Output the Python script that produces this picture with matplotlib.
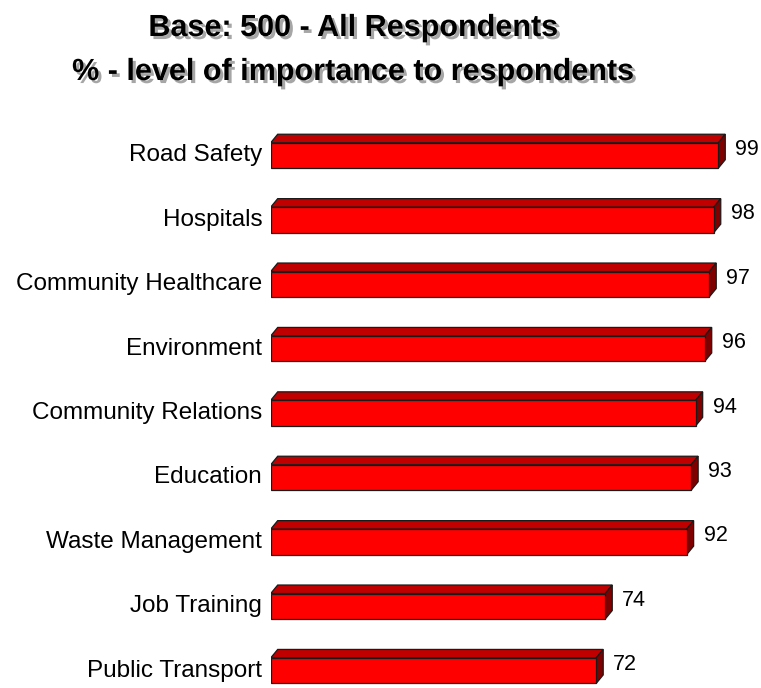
import matplotlib
matplotlib.use("Agg")
import matplotlib.pyplot as plt
from matplotlib import font_manager as fm
from matplotlib import patheffects
from matplotlib.patches import Polygon
from matplotlib.transforms import offset_copy

# ---- data ----
categories = [
    "Road Safety",
    "Hospitals",
    "Community Healthcare",
    "Environment",
    "Community Relations",
    "Education",
    "Waste Management",
    "Job Training",
    "Public Transport",
]
importance = [99, 98, 97, 96, 94, 93, 92, 74, 72]
title_lines = ["Base: 500 - All Respondents", "% - level of importance to respondents"]

# ---- fonts ----
installed = {f.name for f in fm.fontManager.ttflist}
if "Liberation Sans Narrow" in installed:
    label_font = dict(family="Liberation Sans Narrow", size=20.5)
    value_font = dict(family="Liberation Sans Narrow", size=17)
    title_font = dict(family="Liberation Sans Narrow", size=26, weight="bold")
else:
    label_font = dict(family="Liberation Sans", size=17.5)
    value_font = dict(family="Liberation Sans", size=15.5)
    title_font = dict(family="Liberation Sans", size=22, weight="bold")

W, H, DPI = 761, 688, 100
fig = plt.figure(figsize=(W / DPI, H / DPI), dpi=DPI)
fig.patch.set_facecolor("white")

# axes in pixel geometry: x from 270.7 px to right edge, y from 120 px (top) to bottom
ax_left, ax_top = 270.7, 120.0
ax = fig.add_axes([ax_left / W, 0.0, 1 - ax_left / W, (H - ax_top) / H])
px_per_unit = 4.521
ax.set_xlim(0, (W - ax_left) / px_per_unit)
ax.set_ylim(8.269, -0.551)
ax.axis("off")

front_color = "#ff0000"
top_color = "#c00000"
side_color = "#800000"
edge = "#1a1a1a"
bar_h = 25.5 / 64.4           # front face height in row units
dx_px, dy_px = 7.0, 8.5       # depth of the 3-D extrusion in pixels

rows = list(range(len(categories)))
bars = ax.barh(rows, importance, height=bar_h, color=front_color,
               edgecolor=edge, linewidth=0.9, zorder=3)

inv = ax.transData.inverted()
for rect in bars:
    x0, y0 = rect.get_x(), rect.get_y()
    x1, y1 = x0 + rect.get_width(), y0 + rect.get_height()
    # corners of the front face in display coords (y0 is upper edge, axis inverted)
    tl = ax.transData.transform((x0, y0))
    tr = ax.transData.transform((x1, y0))
    br = ax.transData.transform((x1, y1))
    shift = lambda p: (p[0] + dx_px, p[1] + dy_px)
    top = [inv.transform(p) for p in (tl, tr, shift(tr), shift(tl))]
    side = [inv.transform(p) for p in (tr, br, shift(br), shift(tr))]
    ax.add_patch(Polygon(top, closed=True, facecolor=top_color,
                         edgecolor=edge, linewidth=0.9, zorder=2))
    ax.add_patch(Polygon(side, closed=True, facecolor=side_color,
                         edgecolor=edge, linewidth=0.9, zorder=2))

# category labels to the left of the bars
for r, name in zip(rows, categories):
    ax.text(0, r, name, transform=offset_copy(ax.transData, fig=fig, x=-8.5, y=0, units="dots"),
            ha="right", va="center", color="black", **label_font)

# value labels beyond the bar ends
for r, v in zip(rows, importance):
    ax.text(v, r, str(v),
            transform=offset_copy(ax.transData, fig=fig, x=dx_px + 10, y=6, units="dots"),
            ha="left", va="center", color="black", **value_font)

# two-line title with a soft grey drop shadow
shadow = [patheffects.withSimplePatchShadow(offset=(2.2, -2.2),
                                            shadow_rgbFace=(0.65, 0.65, 0.65), alpha=1.0)]
for line, base_px in zip(title_lines, (36, 80)):
    fig.text(353 / W, 1 - base_px / H, line, ha="center", va="baseline",
             color="black", path_effects=shadow, **title_font)

fig.savefig("out.png", dpi=DPI, facecolor="white")
